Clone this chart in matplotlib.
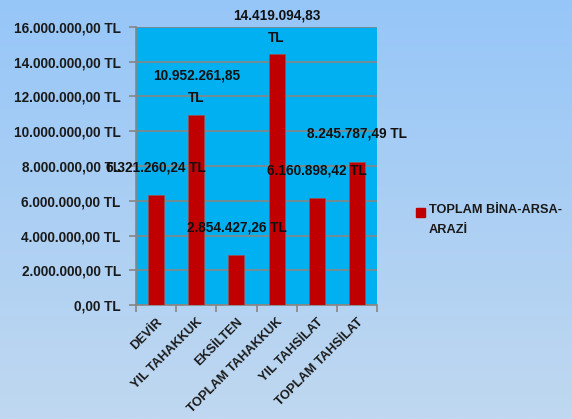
import numpy as np
import matplotlib
matplotlib.use("Agg")
import matplotlib.pyplot as plt
from matplotlib.patches import Rectangle

categories = ["DEVİR", "YIL TAHAKKUK", "EKSİLTEN", "TOPLAM TAHAKKUK",
              "YIL TAHSİLAT", "TOPLAM TAHSİLAT"]
values = [6321260.24, 10952261.85, 2854427.26, 14419094.83,
          6160898.42, 8245787.49]
wrapped = [False, True, False, True, False, False]
yticks = np.arange(0, 16000001, 2000000)
series_name = "TOPLAM BİNA-ARSA-\nARAZİ"


def tl(v):
    s = f"{v:,.2f}"
    return s.replace(",", "X").replace(".", ",").replace("X", ".") + " TL"


plt.rcParams['font.family'] = ['Liberation Sans', 'DejaVu Sans']
plt.rcParams['font.weight'] = 'bold'
NUM_FS = 9.8
TXT_FS = 9.2

fig = plt.figure(figsize=(5.72, 4.19), dpi=100)

# gradient background
bg = fig.add_axes([0, 0, 1, 1], zorder=-10)
grad = np.linspace(0, 1, 256).reshape(-1, 1)
top = np.array([150, 198, 248]) / 255
bot = np.array([192, 216, 240]) / 255
img = top + (bot - top) * grad[..., None]
bg.imshow(img, aspect="auto", extent=[0, 1, 0, 1])
bg.axis("off")

W, H = 572, 419
ax = fig.add_axes([136 / W, 1 - 305 / H, 241 / W, 278 / H])
ax.set_facecolor("#00B0F0")

x = np.arange(len(categories))
ax.bar(x, values, width=0.4, color="#C00000", edgecolor="#A05050",
       linewidth=0.5, zorder=3)

ax.set_xlim(-0.5, len(categories) - 0.5)
ax.set_ylim(0, 16000000)
ax.set_yticks(yticks)
ax.set_yticklabels([tl(v) for v in yticks], fontsize=NUM_FS,
                   fontweight="bold", color="#1a1a1a")
ax.yaxis.grid(True, color="#868686", linewidth=1.2, zorder=1)
ax.set_axisbelow(True)

ax.set_xticks(np.arange(-0.5, len(categories), 1))
ax.set_xticklabels([])
ax.set_xticks(x, minor=True)
ax.set_xticklabels(categories, minor=True, rotation=45, ha="right",
                   rotation_mode="anchor", fontsize=TXT_FS, fontweight="bold",
                   color="#1a1a1a")
ax.tick_params(axis="x", which="minor", length=0, pad=8)
ax.tick_params(axis="x", which="major", length=5, color="#868686", width=1.2)
ax.tick_params(axis="y", length=5, color="#868686", width=1.2, pad=6)

for s in ["top", "right"]:
    ax.spines[s].set_visible(False)
for s in ["left", "bottom"]:
    ax.spines[s].set_color("#868686")
    ax.spines[s].set_linewidth(1.2)

for xi, v, w in zip(x, values, wrapped):
    label = tl(v).replace(" TL", "\nTL") if w else tl(v)
    ax.annotate(label, (xi, v), xytext=(0, 20), textcoords="offset points",
                ha="center", va="center", fontsize=NUM_FS, fontweight="bold",
                color="#111111", linespacing=1.8, annotation_clip=False,
                zorder=5)

# legend
fig.patches.append(Rectangle((416 / W, 1 - 217 / H), 9 / W, 9 / H,
                             transform=fig.transFigure, color="#C00000"))
fig.text(429 / W, 1 - 204 / H, series_name, fontsize=TXT_FS,
         fontweight="bold", color="#1a1a1a", va="top", linespacing=1.9)

fig.savefig("out.png", dpi=100)
